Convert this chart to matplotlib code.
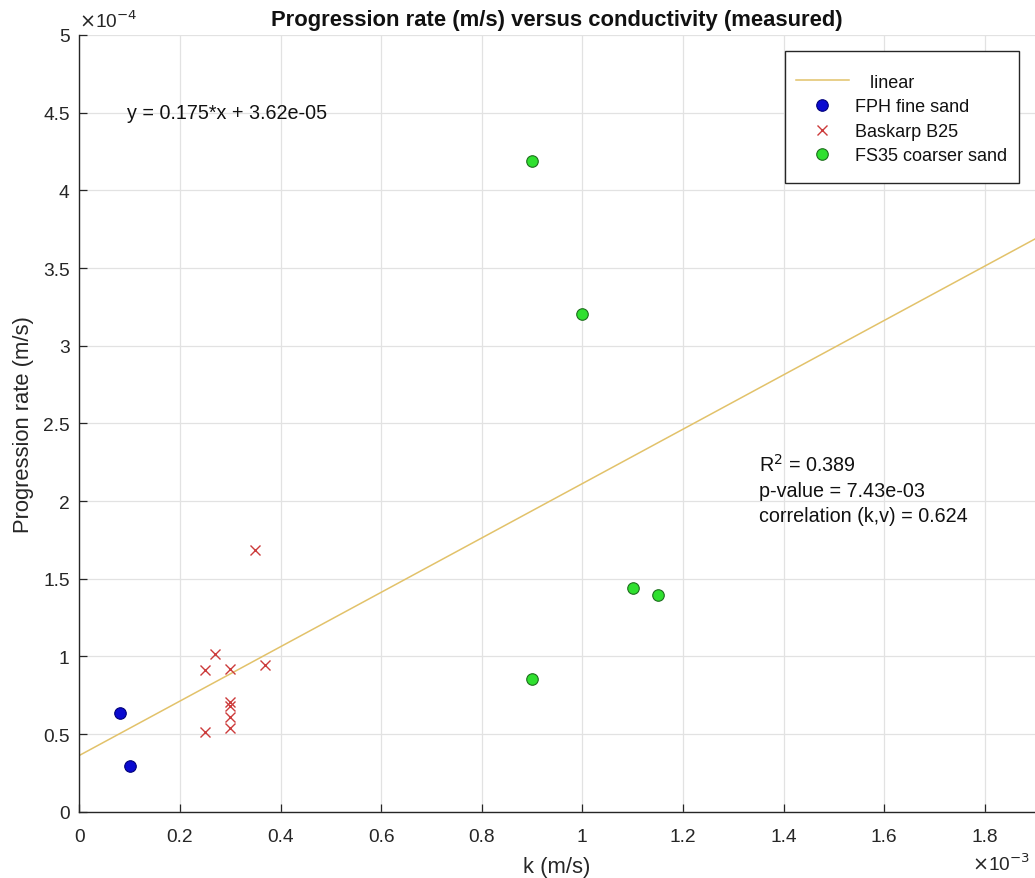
import matplotlib
matplotlib.use("Agg")
import matplotlib.pyplot as plt
import numpy as np
from matplotlib.ticker import FuncFormatter, MultipleLocator
from matplotlib.lines import Line2D
from matplotlib.patches import Rectangle

plt.rcParams['font.family'] = ['Liberation Sans', 'DejaVu Sans']

# Hydraulic conductivity k (m/s) and progression rate v (m/s)
fph_k = [0.08e-3, 0.10e-3]
fph_v = [0.634e-4, 0.296e-4]

b25_k = [0.35e-3, 0.27e-3, 0.25e-3, 0.30e-3, 0.37e-3, 0.30e-3, 0.30e-3, 0.30e-3, 0.30e-3, 0.25e-3]
b25_v = [1.687e-4, 1.016e-4, 0.913e-4, 0.919e-4, 0.945e-4, 0.705e-4, 0.680e-4, 0.608e-4, 0.539e-4, 0.515e-4]

fs35_k = [0.90e-3, 1.00e-3, 1.10e-3, 1.15e-3, 0.90e-3]
fs35_v = [4.19e-4, 3.205e-4, 1.443e-4, 1.397e-4, 0.857e-4]

# Linear fit and statistics
fit_slope = 0.175
fit_intercept = 3.62e-05
r_squared = 0.389
p_value = 7.43e-03
correlation = 0.624

x_max = 1.9e-3
y_max = 5e-4

W, H = 1035, 879
TICK_FS = 13.8
LABEL_FS = 15.8
TEXT_FS = 14.2
LEG_FS = 13.0
INK = '#262626'

fig = plt.figure(figsize=(W / 100, H / 100), dpi=100)
ax = fig.add_axes([79.3 / W, (H - 812.7) / H, (W - 79.3) / W, (812.7 - 36) / H])

ax.set_xlim(0, x_max)
ax.set_ylim(0, y_max)

ax.xaxis.set_major_locator(MultipleLocator(0.2e-3))
ax.yaxis.set_major_locator(MultipleLocator(0.5e-4))
ax.xaxis.set_major_formatter(FuncFormatter(lambda v, p: f"{v / 1e-3:g}"))
ax.yaxis.set_major_formatter(FuncFormatter(lambda v, p: f"{v / 1e-4:g}"))

ax.grid(True, color='#e2e2e2', linewidth=0.9)
ax.set_axisbelow(True)
for side in ('top', 'right'):
    ax.spines[side].set_visible(False)
for side in ('left', 'bottom'):
    ax.spines[side].set_color(INK)
    ax.spines[side].set_linewidth(1.0)
ax.tick_params(direction='in', length=6, width=0.9, color=INK,
               labelsize=TICK_FS, labelcolor=INK)
ax.tick_params(axis='x', pad=12.0)
ax.tick_params(axis='y', pad=7.0)

xs = np.array([0, x_max])
ax.plot(xs, fit_slope * xs + fit_intercept, color='#e2c26a', linewidth=1.1, zorder=2)

ax.plot(fph_k, fph_v, linestyle='none', marker='o', markersize=8.3,
        markerfacecolor='#0a0ad0', markeredgecolor='#00007a', markeredgewidth=0.8, zorder=3)
ax.plot(b25_k, b25_v, linestyle='none', marker='x', markersize=6.5,
        color='#cc3b3b', markeredgewidth=1.0, zorder=3)
ax.plot(fs35_k, fs35_v, linestyle='none', marker='o', markersize=8.3,
        markerfacecolor='#2fe02f', markeredgecolor='#1d6e1d', markeredgewidth=0.8, zorder=3)

ax.set_title('Progression rate (m/s) versus conductivity (measured)',
             fontsize=LABEL_FS, fontweight='bold', color='#111111',
             y=(812.7 - 26) / 776.7, va='baseline', pad=0)
ax.set_xlabel('k (m/s)', fontsize=LABEL_FS, color=INK)
ax.set_ylabel('Progression rate (m/s)', fontsize=LABEL_FS, color=INK)
ax.xaxis.set_label_coords(0.5, (812.7 - 857) / 776.7)
ax.yaxis.set_label_coords((34 - 79.3) / 955.7, 0.5)

# Exponent labels for the scaled axes
ax.text(0.0, 1.0 + 4 / 776.7, r'$\times$10$^{-4}$', transform=ax.transAxes, ha='left', va='bottom',
        fontsize=TICK_FS, color=INK)
fig.text(1.0 - 5 / W, 4 / H, r'$\times$10$^{-3}$', ha='right', va='bottom',
         fontsize=TICK_FS, color=INK)

ax.text(0.094e-3, 4.5e-4, 'y = 0.175*x + 3.62e-05', ha='left', va='center',
        fontsize=TEXT_FS, color='#111111')

stat_lines = [r'R$^2$ = ' + f'{r_squared:.3f}',
              f'p-value = {p_value:.2e}',
              f'correlation (k,v) = {correlation:.3f}']
stat_y = [2.24e-4, 2.07e-4, 1.905e-4]
for txt, yy in zip(stat_lines, stat_y):
    ax.text(1.352e-3, yy, txt, ha='left', va='center', fontsize=TEXT_FS, color='#111111')

handles = [
    Line2D([], [], color='#e2c26a', linewidth=1.1),
    Line2D([], [], linestyle='none', marker='o', markersize=8.3,
           markerfacecolor='#0a0ad0', markeredgecolor='#00007a', markeredgewidth=0.8),
    Line2D([], [], linestyle='none', marker='x', markersize=6.5,
           color='#cc3b3b', markeredgewidth=1.0),
    Line2D([], [], linestyle='none', marker='o', markersize=8.3,
           markerfacecolor='#2fe02f', markeredgecolor='#1d6e1d', markeredgewidth=0.8),
]
labels = ['   linear', 'FPH fine sand', 'Baskarp B25', 'FS35 coarser sand']

# Legend frame, drawn in figure pixels behind the legend entries
box_l, box_r, box_t, box_b = 785, 1019, 52.3, 184
frame = Rectangle((box_l / W, 1 - box_b / H), (box_r - box_l) / W, (box_b - box_t) / H,
                  transform=fig.transFigure, facecolor='white', edgecolor=INK,
                  linewidth=1.0, clip_on=False, zorder=5)
ax.add_patch(frame)
leg = ax.legend(handles, labels, loc='upper left',
                bbox_to_anchor=(box_l / W, 1 - 63.5 / H), bbox_transform=fig.transFigure,
                fontsize=LEG_FS, frameon=False, handlelength=2.9, handletextpad=0.35,
                labelspacing=0.42, borderpad=0.62, borderaxespad=0)
leg.set_zorder(6)
for t in leg.get_texts():
    t.set_color('#111111')

fig.savefig('out.png', dpi=100, facecolor='white')
